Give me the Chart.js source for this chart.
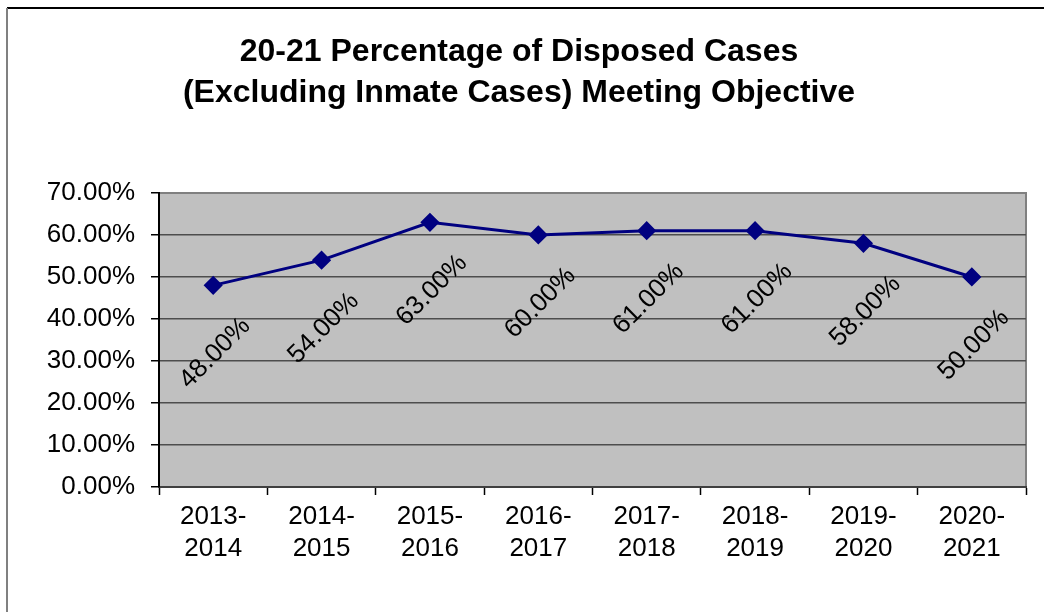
<!DOCTYPE html>
<html>
<head>
<meta charset="utf-8">
<script src="https://cdn.jsdelivr.net/npm/chart.js@4/dist/chart.umd.min.js"></script>
<style>
  html, body { margin: 0; padding: 0; background: #fff; }
  #wrap { width: 1044px; height: 612px; position: relative; }
</style>
</head>
<body>
<div id="wrap"><canvas id="casesChart" width="1044" height="612"></canvas></div>
<script>
const periods = [
    ["2013-", "2014"], ["2014-", "2015"], ["2015-", "2016"], ["2016-", "2017"],
    ["2017-", "2018"], ["2018-", "2019"], ["2019-", "2020"], ["2020-", "2021"]
];
const pctMeetingObjective = [0.48, 0.54, 0.63, 0.60, 0.61, 0.61, 0.58, 0.50];
const titleLines = [
    "20-21 Percentage of Disposed Cases",
    "(Excluding Inmate Cases) Meeting Objective"
];

const fontFamily = "'Liberation Sans', Arial, sans-serif";
const pct = (v) => (v * 100).toFixed(2) + "%";

// grey plot area + outer frame lines
const plotBackground = {
    id: "plotBackground",
    beforeDraw(chart) {
        const { ctx, chartArea: a } = chart;
        ctx.save();
        ctx.fillStyle = "#000000";
        ctx.fillRect(7, 7, 1044, 2);
        ctx.fillStyle = "#808080";
        ctx.fillRect(6, 8, 2, 612);
        ctx.fillStyle = "#c0c0c0";
        ctx.fillRect(a.left, a.top, a.right - a.left, a.bottom - a.top);
        ctx.strokeStyle = "#808080";
        ctx.lineWidth = 2;
        ctx.beginPath();
        ctx.moveTo(a.left, a.top);
        ctx.lineTo(a.right, a.top);
        ctx.lineTo(a.right, a.bottom);
        ctx.stroke();
        ctx.restore();
    },
};

// rotated value labels under each point
const valueLabels = {
    id: "valueLabels",
    afterDatasetsDraw(chart) {
        const { ctx } = chart;
        const meta = chart.getDatasetMeta(0);
        ctx.save();
        ctx.font = "26px " + fontFamily;
        ctx.fillStyle = "#000000";
        ctx.textAlign = "center";
        ctx.textBaseline = "middle";
        meta.data.forEach((pt, i) => {
            ctx.save();
            ctx.translate(pt.x + 2, pt.y + 68);
            ctx.rotate(-Math.PI / 4);
            ctx.fillText(pct(pctMeetingObjective[i]), 0, 0);
            ctx.restore();
        });
        ctx.restore();
    },
};

let casesCtx = document.getElementById("casesChart").getContext("2d");
let casesChart = new Chart(casesCtx, {
    type: "line",
    data: {
        labels: periods,
        datasets: [
            {
                label: "Percentage",
                data: pctMeetingObjective,
                borderColor: "#000080",
                backgroundColor: "#000080",
                borderWidth: 3,
                pointStyle: "rectRot",
                pointRadius: 7.5,
                pointHoverRadius: 7.5,
                tension: 0,
            },
        ],
    },
    options: {
        responsive: false,
        animation: false,
        events: [],
        layout: { padding: { left: 12, right: 18, top: 0, bottom: 0 } },
        plugins: {
            legend: { display: false },
            tooltip: { enabled: false },
            title: {
                display: true,
                text: titleLines,
                color: "#000000",
                font: { family: fontFamily, size: 32, weight: "bold", lineHeight: 1.28 },
                padding: { top: 31.5, bottom: 79.5 },
            },
        },
        scales: {
            x: {
                offset: true,
                grid: {
                    offset: true,
                    drawOnChartArea: false,
                    drawTicks: true,
                    tickLength: 8,
                    tickColor: "#000000",
                    tickWidth: 1.5,
                },
                border: { color: "#404040", width: 2 },
                ticks: {
                    color: "#000000",
                    font: { family: fontFamily, size: 26, lineHeight: 1.22 },
                    padding: 6,
                    maxRotation: 0,
                    autoSkip: false,
                },
                afterFit(scale) { scale.height = 125; },
            },
            y: {
                min: 0,
                max: 0.7,
                ticks: {
                    stepSize: 0.1,
                    color: "#000000",
                    font: { family: fontFamily, size: 26 },
                    padding: 16,
                    callback: (v) => pct(v),
                },
                grid: {
                    color: (c) => (c.tick && Math.abs(c.tick.value - 0.7) < 1e-6 ? "#808080" : "#4d4d4d"),
                    lineWidth: 1.5,
                    tickLength: 8,
                    tickColor: "#000000",
                    tickWidth: 1.5,
                },
                border: { color: "#000000", width: 2 },
                afterFit(scale) { scale.width = 147; },
            },
        },
    },
    plugins: [plotBackground, valueLabels],
});
</script>
</body>
</html>
